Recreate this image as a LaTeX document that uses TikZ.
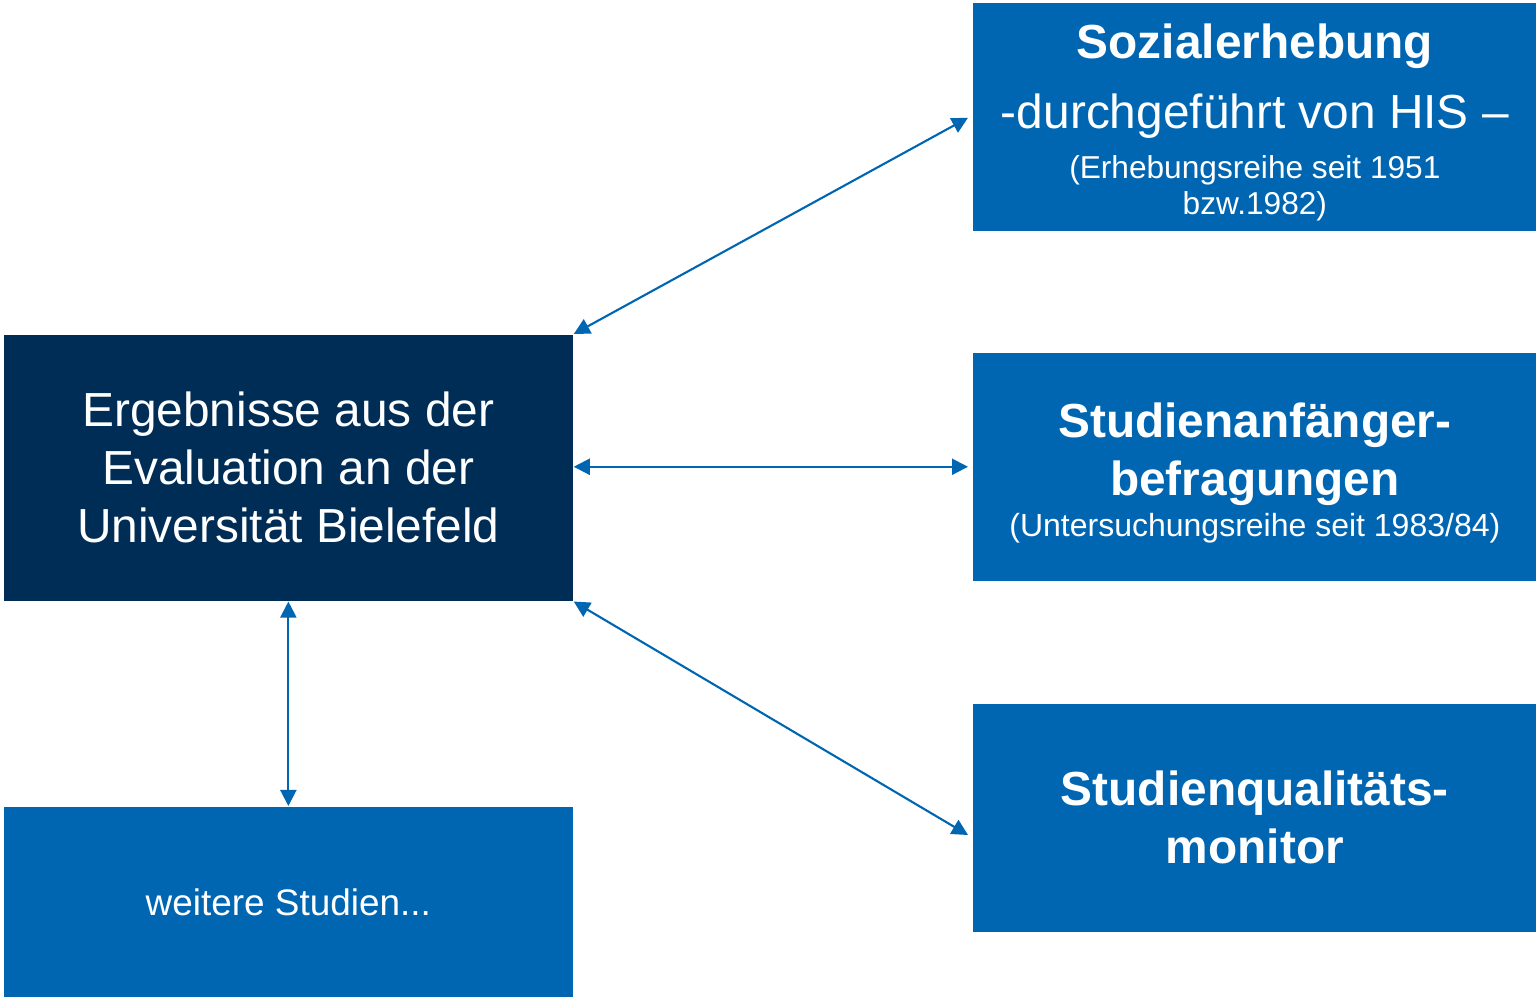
\documentclass[tikz,border=0pt]{standalone}
\usepackage{fontspec}
\setmainfont{Liberation Sans}
\usepackage{tikz}
\usetikzlibrary{arrows.meta,positioning,calc}
\usepackage{xcolor}
\definecolor{unidark}{RGB}{0,45,86}
\definecolor{uniblue}{RGB}{0,102,178}

\begin{document}
\begin{tikzpicture}[x=0.01cm,y=-0.01cm,
    box/.style={fill=uniblue, text=white, inner sep=0pt, align=flush center, anchor=north west,
        text width=5.64cm, minimum height=2.28cm, font=\fontsize{13.6}{16.5}\selectfont},
    link/.style={uniblue, line width=0.6pt,
        {Triangle[length=1.6mm,width=1.6mm]}-{Triangle[length=1.6mm,width=1.6mm]}}]
\useasboundingbox (0,0) rectangle (1536,997);
% left column
\node[box, fill=unidark, text width=5.69cm, minimum height=2.66cm] (ergebnisse) at (3,334)
    {Ergebnisse aus der\\ Evaluation an der\\ Universität Bielefeld};
\node[box, text width=5.69cm, minimum height=1.91cm, font=\fontsize{10.5}{12.6}\selectfont] (weitere) at (3,806)
    {weitere Studien...};
% right column
\node[box] (sozial) at (972,2)
    {\rule{0pt}{13pt}\bfseries Sozialerhebung\\[3.4pt]
     \mdseries -durchgeführt von HIS --\\[-2.3pt]
     \fontsize{9}{16.5}\selectfont (Erhebungsreihe seit 1951\\[-6.3pt]
     bzw.1982)};
\node[box] (anfaenger) at (972,352)
    {\rule{0pt}{13.4pt}\bfseries Studienanfänger-\\ befragungen\\[-5.1pt]
     \mdseries\fontsize{9.1}{16.5}\selectfont (Untersuchungsreihe seit 1983/84)};
\node[box] (qualitaet) at (972,703)
    {\bfseries Studienqualitäts-\\ monitor};
% arrow ends
\coordinate (sozialin) at ($(sozial.west)+(-4,1)$);
\coordinate (anfaengerin) at ($(anfaenger.west)+(-4,0)$);
\coordinate (qualitaetin) at ($(qualitaet.north west)+(-4,132)$);
% connections
\draw[link] (ergebnisse.north east) -- (sozialin);
\draw[link] (ergebnisse.east |- anfaengerin) -- (anfaengerin);
\draw[link] (ergebnisse.south east) -- (qualitaetin);
\draw[link] (ergebnisse.south) -- (weitere.north);
\end{tikzpicture}
\end{document}
